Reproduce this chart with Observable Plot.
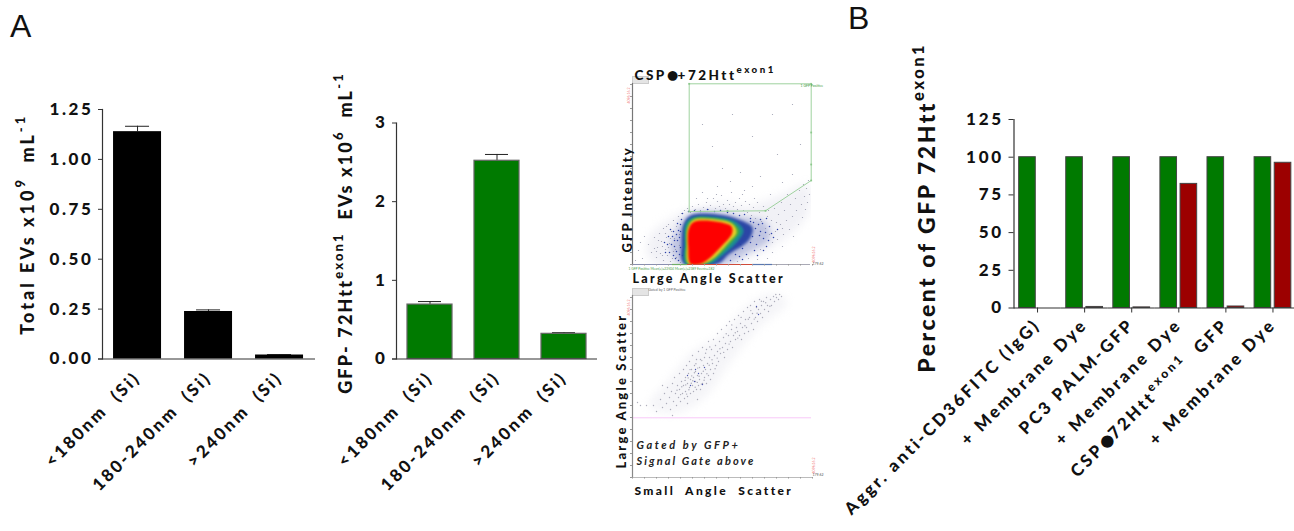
<!DOCTYPE html>
<html>
<head>
<meta charset="utf-8">
<script src="https://cdn.jsdelivr.net/npm/d3@7"></script>
<script src="https://cdn.jsdelivr.net/npm/@observablehq/plot@0.6"></script>
<style>
html,body{margin:0;padding:0;background:#fff;overflow:hidden}
#page{position:relative;width:1294px;height:531px;overflow:hidden;font-family:Lato,sans-serif}
#page svg{position:absolute;overflow:visible;background:transparent}
.letter{position:absolute;font:400 32px "Liberation Sans",sans-serif;color:#111}
.drop{position:absolute;width:15px;height:6px;background:#e4e4e4;border:0.5px solid #ccc}
</style>
</head>
<body>
<div id="page">
  <div class="letter" style="left:10px;top:8px">A</div>
  <div class="letter" style="left:848px;top:0px">B</div>
  <div class="drop" style="left:632px;top:76px"></div>
  <div class="drop" style="left:632px;top:288px"></div>
</div>
<script>
// ---------- Panel A, bar charts ----------
const sizeClasses = ["<180nm  (Si)", "180-240nm  (Si)", ">240nm  (Si)"];
const totalEVs = [1.139, 0.238, 0.02];
const totalEVsTop = [1.166, 0.246, 0.022];
const gfpEVs = [0.692, 2.52, 0.32];
const gfpEVsTop = [0.73, 2.6, 0.335];
const totalTicks = [0, 0.25, 0.5, 0.75, 1, 1.25];
const gfpTicks = [0, 1, 2, 3];

// ---------- Panel B, grouped bars ----------
const treatments = ["Aggr. anti-CD36FITC (IgG)", "+ Membrane Dye", "PC3 PALM-GFP", "+ Membrane Dye ", "CSP●72Htt^{exon1}  GFP", "+ Membrane Dye  "];
const greenPercent = [100, 100, 100, 100, 100, 100];
const redPercent = [0, 0.7, 0.4, 82.3, 1, 96.3];
const percentTicks = [0, 25, 50, 75, 100, 125];

// ---------- Flow plots (channel units), contours ----------
const haloContour = [[20,2],[14,18],[20,32],[36,44],[52,53],[72,58],[92,62],[112,58],[150,70],[176,80],[176,52],[150,24],[122,8],[96,1]];
const blueContour = [[47,1],[38,18],[43,32],[52,47],[62,52],[90,52],[112,47],[133,42],[137,25],[116,12],[96,1]];
const navyContour = [[51,1],[49,20],[51,40],[58,49],[85,50],[106,45],[120,37],[116,24],[96,10],[86,1]];
const tealContour = [[53,1],[52,20],[53,41],[60,47],[88,47],[103,43],[111,34],[105,23],[90,9],[79,1]];
const greenContour = [[55,1],[53.5,20],[54.5,38],[60,45.5],[87,45.5],[101,41],[107,33],[100,23],[86,9],[74,1]];
const yellowContour = [[56,1],[54.5,20],[55.5,37],[61,44.5],[87,44.5],[100,40.5],[104,32],[96,22],[82,7],[71,1]];
const redContour = [[58,0.7],[55.7,17],[56.3,35.7],[61.3,42.5],[86.3,42.5],[99,38],[99.5,31],[89.7,19],[76.3,5.7],[68,0.7]];
const gatePolygon = [[56.7,180.7],[178.7,180.7],[178.7,84],[133,53.7],[56.7,53],[56.7,180.7]];
const gateNodes = [[56.7,180.7],[178.7,180.7],[178.7,84],[133,53.7],[56.7,53],[178.7,132],[178.7,100],[95,53.5]];
const totalScatter = [
[16,20],[19,12],[22,27],[24,7],[25,17],[27,31],[28,11],[29,23],[31,4],[31,36],[33,15],[34,27],[35,9],[36,40],[37,21],[38,3],[39,33],
[41,13],[41,44],[42,26],[44,7],[44,38],[46,48],[47,19],[48,2],[49,51],[52,54],[55,56],[58,52],[60,58],[63,55],[66,60],[68,54],[71,57],
[74,62],[76,55],[78,59],[81,66],[83,56],[85,63],[87,58],[89,69],[91,60],[93,56],[95,64],[97,60],[99,72],[101,58],[103,62],[105,55],[107,66],
[109,59],[111,54],[113,63],[115,52],[117,60],[119,49],[121,57],[123,46],[125,62],[127,52],[129,43],[131,58],[133,36],[135,48],[137,30],[139,44],[140,22],
[142,56],[143,33],[145,25],[146,50],[148,40],[149,62],[151,30],[152,54],[154,44],[155,70],[157,35],[158,60],[160,48],[161,28],[163,66],[164,54],[166,40],
[167,74],[169,60],[170,47],[171,80],[172,68],[173,55],[174,76],[175,62],[176,84],[177,70],[125,5],[116,6],[128,15],[140,12],[150,18],[105,3],[135,6],
[70,72],[85,78],[98,83],[75,66],[112,74],[120,78],[138,70],[150,82],[160,90],[128,88],[108,92],[90,96],[145,110],[120,128],[168,120],[80,118],[100,150],[140,150],[70,140],[160,160],
[10,6],[6,14],[3,4],[12,28],[8,22],[22,16],[26,24],[30,9],[33,31],[36,17],[40,6],[30,18],[38,26],[24,13],[34,38],[43,15],[47,30],[150,36],[144,42],[136,54],[122,66],[110,70],[84,70],[64,66]];
const totalBlue = [[32,22],[37,12],[40,28],[42,18],[43,6],[45,24],[46,34],[47,10],[48,40],[120,28],[124,20],[128,33],[131,26],[134,18],[126,40],[118,46],[110,16],[107,8],[137,38],
[39,20],[41,33],[44,13],[45,41],[46,4],[47,27],[48,17],[49,45],[50,9],[44,30],[42,24],[36,28],[35,20],[38,35],[33,12],[41,9],[48,33],[50,51],[56,53],[62,54],[68,53],[75,55],[82,53],[88,54],[95,52],[101,51],[107,49],[112,50],[118,43],[123,36],[127,29],[130,41],[133,32],[136,24],[139,31],[122,14],[114,10],[118,22],[125,9],[131,14],[110,5],[116,32],[121,42],[128,45],[134,46],[98,4],[103,10],[108,20],[141,27],[145,35]];
const gatedBand = [[16,72],[40,64],[70,78],[100,118],[125,148],[155,176],[140,184],[115,172],[85,140],[60,126],[35,96]];
const gatedScatter = [
[5,75],[14,72],[21,72],[24,66],[28,78],[30,70],[32,84],[34,74],[35,90],[37,80],[38,68],[39,86],[40,94],[41,76],[42,100],[43,84],[44,72],[45,92],[46,80],[47,104],
[47,88],[48,76],[49,96],[50,84],[51,108],[51,92],[52,79],[53,100],[53,86],[54,112],[55,94],[55,81],[56,104],[57,90],[57,116],[58,98],[58,84],[59,108],[60,92],[60,122],
[61,100],[61,86],[62,112],[63,96],[63,106],[64,88],[64,118],[65,102],[66,92],[66,126],[67,110],[67,98],[68,88],[68,118],[69,104],[70,94],[70,130],[71,112],[72,100],[72,120],
[73,108],[74,94],[74,128],[75,114],[76,102],[76,136],[77,120],[78,108],[78,98],[79,128],[80,114],[81,104],[81,138],[82,122],[83,132],[84,112],[85,126],[85,144],[86,116],[87,136],
[88,124],[89,148],[90,130],[91,140],[92,120],[93,134],[94,152],[95,128],[96,142],[97,156],[98,136],[99,148],[100,130],[101,142],[102,158],[103,138],[104,150],[105,146],[106,162],
[107,142],[108,154],[109,138],[110,150],[111,166],[112,144],[113,158],[114,150],[115,170],[116,146],[117,160],[118,172],[119,154],[120,164],[121,148],[122,176],[123,160],[124,170],
[125,156],[126,168],[127,178],[128,164],[129,172],[130,160],[131,176],[132,168],[134,180],[135,172],[136,166],[138,178],[139,172],[141,181],[142,176],[144,180],[146,178],[149,181],[30,92],[55,74],[65,78],[40,62],[8,72],
[44.5,87.2],[49.3,90.8],[52.6,97.1],[56.4,87.7],[59.2,101.6],[54.1,83.4],[62.7,90.2],[60.3,96.8],[64.8,95.1],[57.5,107.9],[66.6,101.3],[68.9,93.4],[63.4,113.7],[70.8,106.2],[53.2,92.6],[48.1,82.9],[58.8,94.3],[61.9,104.8],[55.7,99.6],[65.2,109.4],[71.6,97.2],[74.4,103.8],[76.7,112.3],[69.3,116.9],[73.1,124.2],[79.5,117.8],[82.6,108.7],[84.7,119.4],[77.3,130.6],[87.4,128.7],[91.2,125.1],[93.7,143.8],[96.6,133.4],[99.3,152.6],[102.8,144.7],[105.3,139.4],[108.6,160.1],[112.4,151.7],[115.8,158.3],[118.3,166.9],[121.7,158.4],[124.6,164.2],[128.9,176.3],[133.2,174.8],[137.4,171.2],[143.3,183],[147.1,183]];
const gatedBlue = [[55,102],[58,92],[62,96],[66,104],[70,93],[72,110],[63,108],[124,171],[126,163]];
const eventLine = [[0,40,"#8a90b0"],[40,55,"#6fae68"],[55,120,"#cf4a3a"],[120,140,"#5a78b0"],[140,178,"#a9a9b5"]];
const flowTicks = [0,12,24,36,48,60,72,84,96,108,120,132,144,156,168,180];

// ---------- Helpers ----------
const bold = (extra = {}) => ({fontFamily: "Lato, sans-serif", fontWeight: 900, color: "#111", background: "transparent", ...extra});
const SVGNS = "http://www.w3.org/2000/svg";
function place(svg, left, top) {
  svg.style.left = left + "px"; svg.style.top = top + "px";
  // "a^{b}c" and the ● glyph become real tspans inside one text element
  svg.querySelectorAll("text").forEach(t => {
    t.setAttribute("xml:space", "preserve");
    const s = t.textContent;
    if (!s.includes("^{") && !s.includes("●")) return;
    t.textContent = "";
    let current = 0;
    s.split(/(\^\{[^}]*\}|●)/).filter(Boolean).forEach(part => {
      const sup = part.startsWith("^{"), blob = part === "●";
      const size = sup ? 0.72 : blob ? 1.45 : 1, target = sup ? -0.48 : blob ? 0.18 : 0;
      const ts = document.createElementNS(SVGNS, "tspan");
      ts.textContent = sup ? part.slice(2, -1) : part;
      ts.setAttribute("font-size", size + "em");
      ts.setAttribute("dy", ((target - current) / size) + "em");
      if (blob) ts.style.letterSpacing = "-1px";
      current = target;
      t.appendChild(ts);
    });
  });
  document.getElementById("page").appendChild(svg);
}
function track(svg, needle, spacing) {
  svg.querySelectorAll("text").forEach(t => { if (t.textContent.includes(needle)) t.style.letterSpacing = spacing; });
}

// ---------- Chart 1 ----------
const rows1 = sizeClasses.map((c, i) => ({c, v: totalEVs[i], top: totalEVsTop[i]}));
const c1 = Plot.plot({
  width: 320, height: 531, marginLeft: 102, marginRight: 5, marginTop: 109, marginBottom: 172.5,
  style: bold({fontSize: "17px", letterSpacing: "2.6px"}),
  x: {domain: sizeClasses, paddingInner: 0.324, paddingOuter: 0.162, align: 0.48, round: false},
  y: {domain: [0, 1.25]},
  marks: [
    Plot.ruleX(rows1, {x: "c", y1: "v", y2: "top", stroke: "#222"}),
    Plot.tickY(rows1, {x: "c", y: "top", stroke: "#222", insetLeft: 12, insetRight: 12}),
    Plot.barY(rows1, {x: "c", y: "v", fill: "#000"}),
    Plot.frame({anchor: "left", stroke: "#333", strokeWidth: 1.2}),
    Plot.ruleY([0], {stroke: "#333", strokeWidth: 1.2, insetLeft: -4}),
    Plot.axisY({ticks: totalTicks, tickFormat: d3.format(".2f"), tickSize: 4, tickPadding: 5, label: null, stroke: "#333", fontSize: 17}),
    Plot.axisX({tickRotate: -45, tickSize: 0, tickPadding: 16, label: null, fontSize: 17, anchor: "bottom"}),
    Plot.text(["Total EVs x10^{9}  mL^{-1}"], {frameAnchor: "middle", rotate: -90, dx: -181, dy: -10, fontSize: 18, fontWeight: 900, fill: "#111"})
  ]
});
track(c1, "Total", "3px");
place(c1, 0, 0);

// ---------- Chart 2 ----------
const rows2 = sizeClasses.map((c, i) => ({c, v: gfpEVs[i], top: gfpEVsTop[i]}));
const c2 = Plot.plot({
  width: 285, height: 531, marginLeft: 76, marginRight: 8, marginTop: 122.5, marginBottom: 172.5,
  style: bold({fontSize: "17px", letterSpacing: "2.6px"}),
  x: {domain: sizeClasses, paddingInner: 0.328, paddingOuter: 0.164, round: false},
  y: {domain: [0, 3]},
  marks: [
    Plot.ruleX(rows2, {x: "c", y1: "v", y2: "top", stroke: "#222"}),
    Plot.tickY(rows2, {x: "c", y: "top", stroke: "#222", insetLeft: 11, insetRight: 11}),
    Plot.barY(rows2, {x: "c", y: "v", fill: "#007a00", stroke: "#666", strokeWidth: 1.2}),
    Plot.frame({anchor: "left", stroke: "#333", strokeWidth: 1.2}),
    Plot.ruleY([0], {stroke: "#333", strokeWidth: 1.2, insetLeft: -4}),
    Plot.axisY({ticks: gfpTicks, tickFormat: d3.format("d"), tickSize: 4, tickPadding: 5, label: null, stroke: "#333", fontSize: 17}),
    Plot.axisX({tickRotate: -45, tickSize: 0, tickPadding: 16, label: null, fontSize: 17, anchor: "bottom"}),
    Plot.text(["GFP- 72Htt^{exon1}  EVs x10^{6}  mL^{-1}"], {frameAnchor: "middle", rotate: -90, dx: -151, dy: -8, fontSize: 18, fontWeight: 900, fill: "#111"})
  ]
});
track(c2, "GFP-", "2.15px");
place(c2, 320, 0);

// ---------- Flow plot 1 ----------
const xy = {x: d => d[0], y: d => d[1]};
const contour = (pts, fill, extra = {}) => Plot.line(pts, {...xy, fill, stroke: "none", curve: "catmull-rom-closed", clip: true, imageFilter: "blur(1px)", ...extra});
const f1 = Plot.plot({
  width: 230, height: 300, marginLeft: 32, marginRight: 19, marginTop: 83, marginBottom: 36,
  style: bold({fontSize: "12px", letterSpacing: "0px"}),
  x: {domain: [0, 179]}, y: {domain: [0, 181]},
  marks: [
    contour(haloContour, "#dfe0ea", {imageFilter: "blur(5px)", opacity: 0.45}),
    contour(blueContour, "#a9b0d8", {imageFilter: "blur(3px)", opacity: 0.7}),
    Plot.dot(totalScatter, {...xy, r: 0.6, fill: "#7e8098", stroke: "none", opacity: 0.75}),
    Plot.dot(totalBlue, {...xy, r: 0.75, fill: "#2d42a8", stroke: "none", imageFilter: "blur(0.3px)"}),
    contour(navyContour, "#2b46a6", {imageFilter: "blur(1.5px)"}),
    contour(tealContour, "#1c8d93", {imageFilter: "blur(1.2px)"}),
    contour(greenContour, "#48ad3c", {imageFilter: "blur(1px)"}),
    contour(yellowContour, "#e8cf28", {imageFilter: "blur(0.8px)"}),
    contour(redContour, "#fe0000", {imageFilter: "blur(0.8px)"}),
    Plot.line(gatePolygon, {...xy, stroke: "#9fd29f", strokeWidth: 1}),
    Plot.dot(gateNodes, {...xy, symbol: "square", r: 1, fill: "#8cc88c", stroke: "none"}),
    Plot.ruleY(eventLine, {y: () => 0, x1: d => d[0], x2: d => d[1], stroke: d => d[2], strokeWidth: 1.2}),
    Plot.frame({anchor: "left", stroke: "#777", strokeWidth: 1.2}),
    Plot.axisY({ticks: flowTicks, tickSize: 2, tickFormat: () => "", label: null, stroke: "#999"}),
    Plot.axisX({ticks: flowTicks, tickSize: 1.5, tickFormat: () => "", label: null, stroke: "#999", anchor: "bottom"}),
    Plot.text(["CSP●+72Htt^{exon1}"], {frameAnchor: "top-left", textAnchor: "start", lineAnchor: "bottom", dx: 2, dy: -4, fontSize: 13.5, fontWeight: 900, fill: "#111"}),
    Plot.text(["Large Angle Scatter"], {frameAnchor: "bottom-left", textAnchor: "start", lineAnchor: "top", dx: 0, dy: 10, fontSize: 12.5, fontWeight: 900, fill: "#111"}),
    Plot.text(["GFP Intensity"], {frameAnchor: "bottom-left", rotate: -90, textAnchor: "start", dx: -1, dy: -12, fontSize: 13, fontWeight: 900, fill: "#111"}),
    Plot.text(["1 GFP Positive"], {frameAnchor: "top-right", textAnchor: "start", dx: -11, dy: 1, fontSize: 3.5, fontWeight: 400, fill: "#3a9a3a"}),
    Plot.text(["1 GFP Positive Mean(+)=22504 Mean(+)=2389 Events=182"], {frameAnchor: "bottom-left", textAnchor: "start", lineAnchor: "top", dx: -4, dy: 3, fontSize: 3.3, fontWeight: 400, fill: "#4aa04a"}),
    Plot.text(["4096:16.2"], {frameAnchor: "top-left", rotate: -90, dx: -5, dy: 20, fontSize: 3.5, fontWeight: 400, fill: "#ef7070"}),
    Plot.text(["4096:16.2"], {frameAnchor: "bottom-right", rotate: -90, dx: 3, dy: -18, fontSize: 3.5, fontWeight: 400, fill: "#ef7070"}),
    Plot.text(["179.62"], {frameAnchor: "bottom-right", textAnchor: "start", dx: 1, dy: 0, fontSize: 3.5, fontWeight: 400, fill: "#555"})
  ]
});
track(f1, "CSP", "2.5px"); track(f1, "Large", "2.3px"); track(f1, "GFP Int", "2.1px");
place(f1, 600, 0);

// ---------- Flow plot 2 ----------
const f2 = Plot.plot({
  width: 230, height: 230, marginLeft: 32, marginRight: 19, marginTop: 10, marginBottom: 38,
  style: bold({fontSize: "12px", letterSpacing: "0px"}),
  x: {domain: [0, 179]}, y: {domain: [0, 182]},
  marks: [
    contour(gatedBand, "#e8e8f0", {imageFilter: "blur(4px)", opacity: 0.45, clip: false}),
    Plot.ruleY([59.7], {stroke: "#f8c8f8", strokeWidth: 1}),
    Plot.dot(gatedScatter, {...xy, r: 0.7, fill: "#8d8da0", stroke: "none", opacity: 0.7, imageFilter: "blur(0.3px)"}),
    Plot.dot(gatedBlue, {...xy, r: 0.7, fill: "#4a55b0", stroke: "none"}),
    Plot.frame({anchor: "left", stroke: "#888", strokeWidth: 1.2}),
    Plot.frame({anchor: "bottom", stroke: "#aaa", strokeWidth: 0.8}),
    Plot.axisY({ticks: flowTicks, tickSize: 2, tickFormat: () => "", label: null, stroke: "#999"}),
    Plot.axisX({ticks: flowTicks, tickSize: 1.5, tickFormat: () => "", label: null, stroke: "#999", anchor: "bottom"}),
    Plot.text(["Small  Angle  Scatter"], {frameAnchor: "bottom-left", textAnchor: "start", lineAnchor: "top", dx: 2, dy: 9, fontSize: 12, fontWeight: 900, fill: "#111"}),
    Plot.text(["Large Angle Scatter"], {frameAnchor: "bottom-left", rotate: -90, textAnchor: "start", dx: -7, dy: -9, fontSize: 13, fontWeight: 900, fill: "#111"}),
    Plot.text(["Gated by GFP+"], {frameAnchor: "bottom-left", textAnchor: "start", dx: 4, dy: -29, fontSize: 11, fontWeight: 700, fontStyle: "italic", fill: "#222"}),
    Plot.text(["Signal Gate above"], {frameAnchor: "bottom-left", textAnchor: "start", dx: 4, dy: -13, fontSize: 11, fontWeight: 700, fontStyle: "italic", fill: "#222"}),
    Plot.text(["Gated by 1 GFP Positive"], {frameAnchor: "top-left", textAnchor: "start", dx: 16, dy: -7, fontSize: 3.5, fontWeight: 400, fill: "#666"}),
    Plot.text(["4096:16.2"], {frameAnchor: "top-left", rotate: -90, dx: -5, dy: 20, fontSize: 3.5, fontWeight: 400, fill: "#ef7070"}),
    Plot.text(["4096:16.2"], {frameAnchor: "bottom-right", rotate: -90, dx: 3, dy: -20, fontSize: 3.5, fontWeight: 400, fill: "#ef7070"}),
    Plot.text(["179.62"], {frameAnchor: "bottom-right", textAnchor: "start", dx: 1, dy: -2, fontSize: 3.5, fontWeight: 400, fill: "#555"})
  ]
});
track(f2, "Small", "2.35px"); track(f2, "Large", "2.2px"); track(f2, "Gated by GFP", "2.6px"); track(f2, "Signal", "2.1px");
place(f2, 600, 285);

// ---------- Chart B ----------
const seriesB = ["GFP signal", "Membrane Dye signal"];
const rowsB = treatments.flatMap((t, i) => [
  {t, s: seriesB[0], v: greenPercent[i]},
  {t, s: seriesB[1], v: redPercent[i]}
]);
const cB = Plot.plot({
  width: 456, height: 531, marginLeft: 173.5, marginRight: 0, marginTop: 119, marginBottom: 223.5,
  style: bold({fontSize: "17px", letterSpacing: "2.8px"}),
  fx: {domain: treatments, padding: 0, label: null, round: false},
  x: {domain: seriesB, paddingInner: 0.175, paddingOuter: 0.256, axis: null, round: false},
  y: {domain: [0, 125]},
  color: {domain: seriesB, range: ["#007a00", "#9c0000"]},
  marks: [
    Plot.barY(rowsB, {fx: "t", x: "s", y: "v", fill: "s", stroke: "#444", strokeWidth: 1}),
    Plot.ruleY([0], {stroke: "#333", strokeWidth: 1.2}),
    Plot.frame({anchor: "left", stroke: "#333", strokeWidth: 1.2, facet: "super"}),
    Plot.axisY({ticks: percentTicks, tickSize: 5, tickPadding: 5, label: null, stroke: "#333", fontSize: 17}),
    Plot.axisFx({anchor: "bottom", tickRotate: -45, tickSize: 5, tickPadding: 9, label: null, stroke: "#333", fontSize: 17,
      tickFormat: d => d.trimEnd()}),
    Plot.text(["Percent of GFP 72Htt^{exon1}"], {frameAnchor: "middle", facet: "super", rotate: -90, dx: -228, dy: -6, fontSize: 23, fontWeight: 900, fill: "#111"})
  ]
});
track(cB, "Percent", "2.5px");
place(cB, 840, 0);
</script>
</body>
</html>
